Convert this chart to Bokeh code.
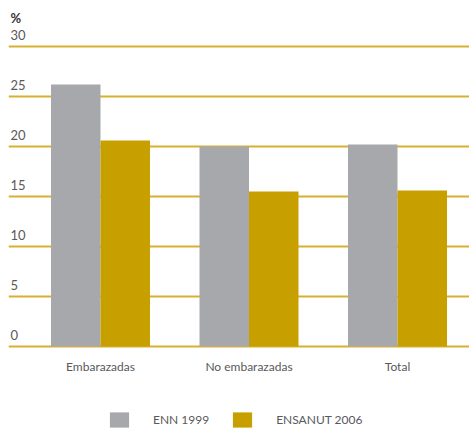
from bokeh.plotting import figure
from bokeh.models import ColumnDataSource, Range1d, FixedTicker, Legend, LegendItem
from bokeh.transform import dodge
from bokeh.core.properties import value
from bokeh.embed import file_html
from bokeh.resources import INLINE

categories = ["Embarazadas", "No embarazadas", "Total"]
enn_1999 = [26.2, 20.0, 20.2]
ensanut_2006 = [20.6, 15.5, 15.6]
series_names = ["ENN 1999", "ENSANUT 2006"]
y_ticks = [0, 5, 10, 15, 20, 25, 30]
y_unit = "%"

GRAY = "#a7a8ab"
GOLD = "#c7a000"
GRID = "#d8b030"
TEXT = "#58595b"
FONT = "Lato"

idx = list(range(len(categories)))
src = ColumnDataSource(dict(x=idx, cat=categories, a=enn_1999, b=ensanut_2006,
                            base=[0] * len(idx)))

x0, x1 = -0.6195, 2.4848
p = figure(width=469, height=429, output_backend="svg", toolbar_location=None,
           x_range=Range1d(x0, x1), y_range=Range1d(-8.3, 34.6),
           x_axis_location=None, y_axis_location=None, min_border=0,
           min_border_left=8)
p.outline_line_color = None
p.xgrid.visible = False
p.ygrid.ticker = FixedTicker(ticks=y_ticks)
p.ygrid.grid_line_color = GRID
p.ygrid.grid_line_width = 2
p.ygrid.bounds = (0, 30)

bw = 1 / 3
r1 = p.vbar(x=dodge("x", -bw / 2), top="a", width=bw, bottom=0, source=src,
            fill_color=GRAY, line_color=None)
r2 = p.vbar(x=dodge("x", bw / 2), top="b", width=bw, bottom=0, source=src,
            fill_color=GOLD, line_color=None)

# y tick labels above grid lines
tsrc = ColumnDataSource(dict(x=[x0] * len(y_ticks), y=y_ticks, t=[str(v) for v in y_ticks]))
p.text(x="x", y="y", text="t", source=tsrc, x_offset=2, y_offset=-12,
       text_baseline="middle", text_align="left", text_font=value(FONT),
       text_font_size="13px", text_color=TEXT)

# unit label
p.text(x=[x0], y=[y_ticks[-1]], text=[y_unit], x_offset=2, y_offset=-29,
       text_baseline="middle", text_align="left", text_font=value(FONT),
       text_font_size="13px", text_font_style="bold", text_color="#333333")

# category labels
p.text(x="x", y="base", text="cat", source=src, y_offset=20,
       text_baseline="middle", text_align="center", text_font=value(FONT),
       text_font_size="12px", text_color=TEXT)

legend = Legend(items=[LegendItem(label=series_names[0], renderers=[r1]),
                       LegendItem(label=series_names[1], renderers=[r2])],
                orientation="horizontal", location=(99, 0),
                glyph_width=24, glyph_height=19, label_standoff=22, spacing=21,
                padding=0, margin=0, border_line_color=None, background_fill_alpha=0,
                label_text_font=FONT, label_text_font_size="12px",
                label_text_color=TEXT, label_height=19)
p.add_layout(legend)

open("out.html", "w").write(file_html(p, INLINE))
